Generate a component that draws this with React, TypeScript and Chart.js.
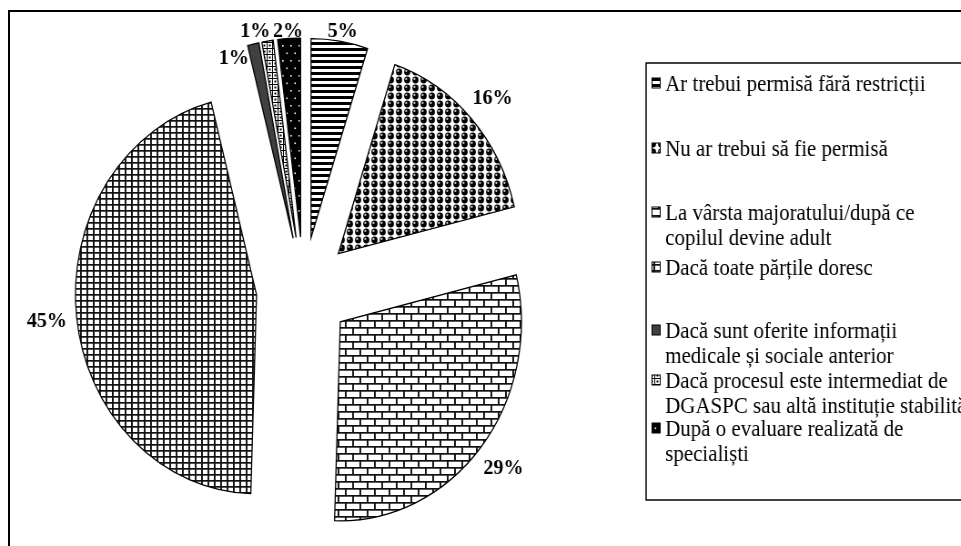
import React, { useEffect, useRef } from "react";
import { Chart, registerables } from "chart.js";

Chart.register(...registerables);

// ---- Data ----
const categories: string[] = [
  "Ar trebui permisă fără restricții",
  "Nu ar trebui să fie permisă",
  "La vârsta majoratului/după ce copilul devine adult",
  "Dacă toate părțile doresc",
  "Dacă sunt oferite informații medicale și sociale anterior",
  "Dacă procesul este intermediat de DGASPC sau altă instituție stabilită",
  "După o evaluare realizată de specialiști",
];
const values: number[] = [5, 16, 29, 45, 1, 1, 2];
const legendLines: string[][] = [
  ["Ar trebui permisă fără restricții"],
  ["Nu ar trebui să fie permisă"],
  ["La vârsta majoratului/după ce", "copilul devine adult"],
  ["Dacă toate părțile doresc"],
  ["Dacă sunt oferite informații", "medicale și sociale anterior"],
  ["Dacă procesul este intermediat de", "DGASPC sau altă instituție stabilită"],
  ["După o evaluare realizată de", "specialiști"],
];

// ---- Layout ----
const SCALE_X = 0.91;
const CANVAS_W = 1045;
const CANVAS_H = 534;
const RADIUS = 199;
const EXPLODE = 52;
const LEGEND = {
  left: 699,
  top: 51,
  width: 420,
  height: 437,
  swatchX: 705.5,
  swatch: 9,
  textX: 720,
  rows: [71, 136, 200, 255, 318, 368, 416],
  lineGap: 25,
};

type Drawer = (g: CanvasRenderingContext2D, w: number, h: number) => void;

function makePattern(ctx: CanvasRenderingContext2D, w: number, h: number, draw: Drawer) {
  const c = document.createElement("canvas");
  c.width = w;
  c.height = h;
  const g = c.getContext("2d")!;
  draw(g, w, h);
  return ctx.createPattern(c, "repeat") as CanvasPattern;
}

function makeFills(ctx: CanvasRenderingContext2D): (CanvasPattern | string)[] {
  const stripes = makePattern(ctx, 6, 6, (g) => {
    g.fillStyle = "#fff";
    g.fillRect(0, 0, 6, 6);
    g.fillStyle = "#000";
    g.fillRect(0, 0, 6, 3);
  });
  const spheres = makePattern(ctx, 9, 8, (g) => {
    g.fillStyle = "#fff";
    g.fillRect(0, 0, 9, 8);
    g.fillStyle = "#000";
    g.beginPath();
    g.arc(4.5, 4, 3.4, 0, Math.PI * 2);
    g.fill();
    g.fillStyle = "#ccc";
    g.beginPath();
    g.arc(3.4, 2.9, 1.1, 0, Math.PI * 2);
    g.fill();
  });
  const bricks = makePattern(ctx, 16, 14, (g) => {
    g.fillStyle = "#fff";
    g.fillRect(0, 0, 16, 14);
    g.fillStyle = "#111";
    g.fillRect(0, 0, 16, 1.7);
    g.fillRect(0, 7, 16, 1.7);
    g.fillRect(0, 0, 1.9, 7);
    g.fillRect(8, 7, 1.9, 7);
  });
  const grid = makePattern(ctx, 7, 6, (g) => {
    g.fillStyle = "#fff";
    g.fillRect(0, 0, 7, 6);
    g.fillStyle = "#111";
    g.fillRect(0, 0, 7, 1.7);
    g.fillRect(0, 0, 1.9, 6);
  });
  const checks = makePattern(ctx, 6, 6, (g) => {
    g.fillStyle = "#fff";
    g.fillRect(0, 0, 6, 6);
    g.fillStyle = "#000";
    g.fillRect(0, 0, 6, 1);
    g.fillRect(0, 0, 1, 6);
    g.fillRect(2.5, 2.5, 2, 2);
  });
  const dots = makePattern(ctx, 9, 15, (g) => {
    g.fillStyle = "#000";
    g.fillRect(0, 0, 9, 15);
    g.fillStyle = "#fff";
    g.fillRect(2, 3, 1.6, 1.6);
    g.fillRect(6.5, 10.5, 1.6, 1.6);
  });
  return [stripes, spheres, bricks, grid, "#404040", checks, dots];
}

export default function App() {
  const ref = useRef<HTMLCanvasElement>(null);

  useEffect(() => {
    const canvas = ref.current!;
    const ctx0 = canvas.getContext("2d")!;
    const fills = makeFills(ctx0);

    const explodePlugin = {
      id: "explode",
      afterDatasetUpdate(chart: any, args: any) {
        args.meta.data.forEach((el: any) => {
          const mid = (el.startAngle + el.endAngle) / 2;
          el.x += Math.cos(mid) * EXPLODE;
          el.y += Math.sin(mid) * EXPLODE;
        });
      },
    };

    const labelPlugin = {
      id: "pctLabels",
      afterDatasetsDraw(chart: any) {
        const ctx: CanvasRenderingContext2D = chart.ctx;
        const meta = chart.getDatasetMeta(0);
        ctx.save();
        ctx.font = 'bold 22px "Liberation Serif", "Times New Roman", serif';
        ctx.fillStyle = "#000";
        ctx.textAlign = "center";
        ctx.textBaseline = "middle";
        const placed: { x: number; y: number; hw: number; hh: number }[] = [];
        for (let i = meta.data.length - 1; i >= 0; i--) {
          const el = meta.data[i];
          const mid = (el.startAngle + el.endAngle) / 2;
          const dx = Math.cos(mid);
          const dy = Math.sin(mid);
          const text = `${values[i]}%`;
          const hw = ctx.measureText(text).width / 2;
          const hh = 8;
          const d = el.outerRadius + 10 + hw * Math.abs(dx) + hh * Math.abs(dy);
          let x = el.x + dx * d;
          let y = Math.max(el.y + dy * d, 18);
          for (const p of placed) {
            const overlap =
              x - hw < p.x + p.hw && x + hw > p.x - p.hw && y - hh < p.y + p.hh && y + hh > p.y - p.hh;
            if (overlap) {
              const shift = x + hw - (p.x - p.hw) + 3;
              if (shift <= hw) {
                x -= shift;
              } else {
                y += 2 * hh + 11;
                x -= hw;
              }
            }
          }
          placed.push({ x, y, hw, hh });
          ctx.fillText(text, x, y + 1);
        }
        ctx.restore();
      },
    };

    const legendPlugin = {
      id: "boxLegend",
      afterDraw(chart: any) {
        const ctx: CanvasRenderingContext2D = chart.ctx;
        ctx.save();
        ctx.fillStyle = "#fff";
        ctx.fillRect(LEGEND.left, LEGEND.top, LEGEND.width, LEGEND.height);
        ctx.strokeStyle = "#000";
        ctx.lineWidth = 1.5;
        ctx.strokeRect(LEGEND.left, LEGEND.top, LEGEND.width, LEGEND.height);
        ctx.font = '23px "Liberation Serif", "Times New Roman", serif';
        ctx.textAlign = "left";
        ctx.textBaseline = "alphabetic";
        legendLines.forEach((lines, i) => {
          const cy = LEGEND.rows[i];
          const s = LEGEND.swatch;
          ctx.fillStyle = fills[i] as any;
          ctx.fillRect(LEGEND.swatchX, cy - s / 2 - 0.5, s, s + 1);
          ctx.lineWidth = 1;
          ctx.strokeStyle = "#000";
          ctx.strokeRect(LEGEND.swatchX, cy - s / 2 - 0.5, s, s + 1);
          ctx.fillStyle = "#000";
          lines.forEach((ln, j) => {
            ctx.fillText(ln, LEGEND.textX, cy + 7.5 + j * LEGEND.lineGap);
          });
        });
        ctx.restore();
      },
    };

    const chart = new Chart(canvas, {
      type: "pie",
      data: {
        labels: categories,
        datasets: [
          {
            data: values,
            backgroundColor: fills as any,
            borderColor: "#000",
            borderWidth: 1.3,
            borderJoinStyle: "miter",
            radius: RADIUS,
            clip: false,
          } as any,
        ],
      },
      options: {
        responsive: false,
        animation: false,
        devicePixelRatio: 1,
        layout: { padding: { left: 0, right: CANVAS_W - 645.2, top: 20, bottom: 0 } },
        plugins: {
          legend: { display: false },
          tooltip: { enabled: false },
        },
        events: [],
      } as any,
      plugins: [explodePlugin, labelPlugin, legendPlugin],
    });

    return () => chart.destroy();
  }, []);

  return (
    <div
      style={{
        position: "fixed",
        left: 8,
        top: 10,
        width: 960,
        height: 540,
        borderLeft: "2px solid #000",
        borderTop: "2px solid #000",
        overflow: "hidden",
        background: "#fff",
      }}
    >
      <canvas
        ref={ref}
        width={CANVAS_W}
        height={CANVAS_H}
        style={{
          display: "block",
          width: CANVAS_W,
          height: CANVAS_H,
          transform: `scaleX(${SCALE_X})`,
          transformOrigin: "0 0",
        }}
      />
    </div>
  );
}
